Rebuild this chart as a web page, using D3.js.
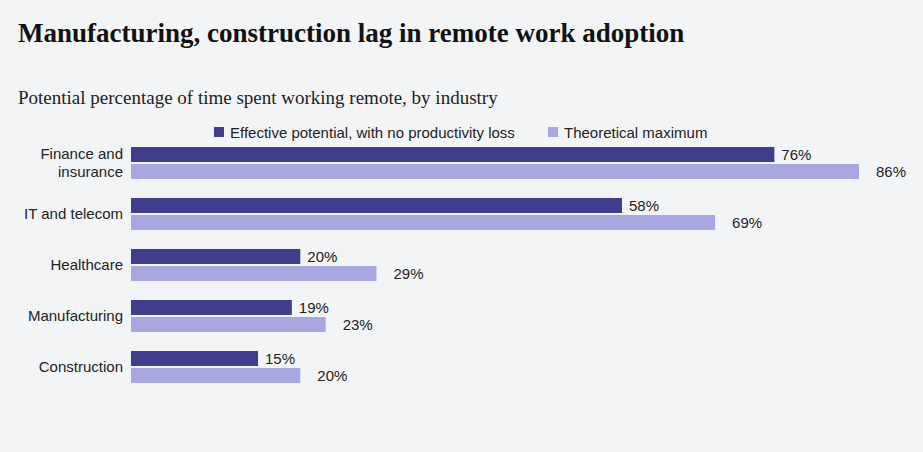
<!DOCTYPE html>
<html><head><meta charset="UTF-8">
<script src="https://d3js.org/d3.v7.min.js"></script>
<style>body{margin:0;background:#f3f4f6}svg{display:block}</style>
</head><body><svg width="923" height="452"></svg>
<script>
const categories=[["Finance and","insurance"],["IT and telecom"],["Healthcare"],["Manufacturing"],["Construction"]];
const effective=[76,58,20,19,15];
const theoretical=[86,69,29,23,20];
const seriesNames=["Effective potential, with no productivity loss","Theoretical maximum"];
const colors=["#3f3d8c","#a9a7e0"];

let svg=d3.select('svg');
svg.append('rect').attr('width',923).attr('height',452).attr('fill','#f3f4f6');
svg.append('text').attr('x',18).attr('y',42).attr('font-family','Liberation Serif, serif').attr('font-weight','bold').attr('font-size',27).attr('fill','#111').text('Manufacturing, construction lag in remote work adoption');
svg.append('text').attr('x',18).attr('y',104).attr('font-family','Liberation Serif, serif').attr('font-size',19).attr('fill','#222').text('Potential percentage of time spent working remote, by industry');

let x=d3.scaleLinear().domain([0,86]).range([131,859]);
let y=d3.scaleBand().domain(d3.range(categories.length)).range([147,402]);
const bh=15;

// legend
let lg=svg.append('g').attr('font-family','Liberation Sans, Arial, sans-serif').attr('font-size',15);
[[214,seriesNames[0]],[548,seriesNames[1]]].forEach(([lx,t],i)=>{
  lg.append('rect').attr('x',lx).attr('y',127).attr('width',10).attr('height',10).attr('fill',colors[i]);
  lg.append('text').attr('x',lx+16).attr('y',138).attr('fill','#222').text(t);
});

let g=svg.append('g').attr('font-family','Liberation Sans, Arial, sans-serif').attr('font-size',15).attr('fill','#222');
categories.forEach((c,i)=>{
  [effective[i],theoretical[i]].forEach((v,j)=>{
    let yy=y(i)+j*(bh+2);
    g.append('rect').attr('x',x(0)).attr('y',yy).attr('width',x(v)-x(0)).attr('height',bh).attr('fill',colors[j]);
    g.append('text').attr('x',x(v)+j*10+7).attr('y',yy+13).attr('fill','#222').text(v+'%');
  });
  let t=g.append('text').attr('text-anchor','end').attr('x',123).attr('fill','#222');
  let cy=y(i)+bh+1;
  if(c.length===1) t.append('tspan').attr('x',123).attr('y',cy+5).text(c[0]);
  else c.forEach((s,k)=>t.append('tspan').attr('x',123).attr('y',cy-4+k*18).text(s));
});
</script></body></html>
